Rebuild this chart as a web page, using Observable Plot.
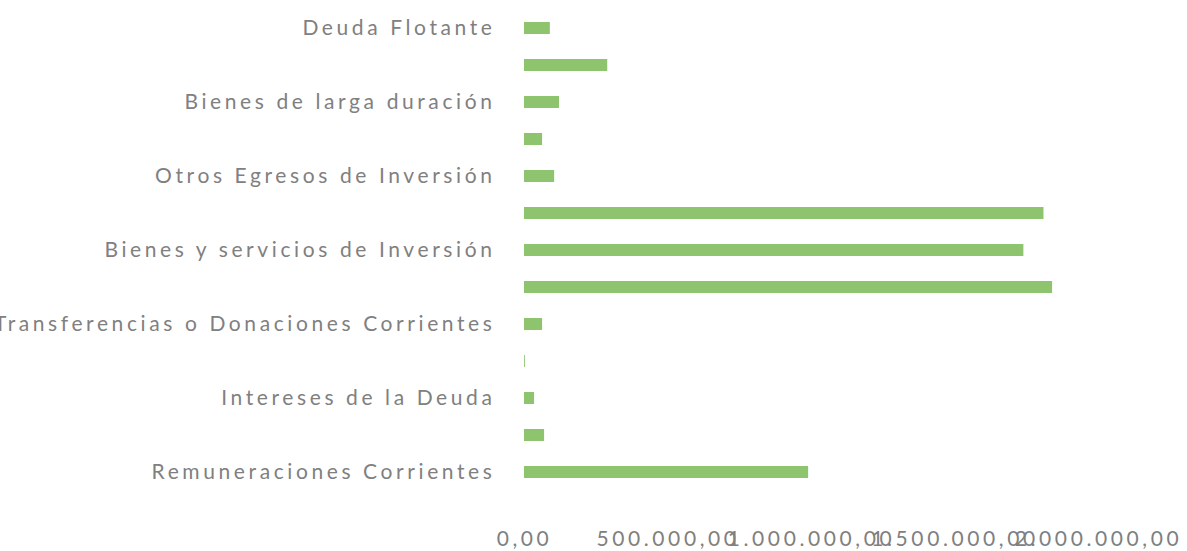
<!DOCTYPE html>
<html>
<head>
<meta charset="utf-8">
<script src="https://cdn.jsdelivr.net/npm/d3@7"></script>
<script src="https://cdn.jsdelivr.net/npm/@observablehq/plot@0.6"></script>
<style>
  html, body { margin: 0; padding: 0; background: #ffffff; }
  #chart svg { overflow: visible; }
</style>
</head>
<body>
<div id="chart"></div>
<script>
// Categories, bottom to top as in the reference
const categories = [
  "Remuneraciones Corrientes",
  "Bienes y Servicios de Consumo",
  "Intereses de la Deuda",
  "Otros Egresos Corrientes",
  "Transferencias o Donaciones Corrientes",
  "Egresos en Personal para Inversión",
  "Bienes y servicios de Inversión",
  "Obras Públicas",
  "Otros Egresos de Inversión",
  "Transferencias o Donaciones para Inversión",
  "Bienes de larga duración",
  "Amortización de la Deuda Pública",
  "Deuda Flotante"
];
const values = [
  990000, 70000, 35000, 3000, 63000,
  1840000, 1740000, 1810000, 105000, 63000,
  122000, 290000, 90000
];
// Only every other category label is shown in the reference
const shownLabels = [
  "Remuneraciones Corrientes",
  "Intereses de la Deuda",
  "Transferencias o Donaciones Corrientes",
  "Bienes y servicios de Inversión",
  "Otros Egresos de Inversión",
  "Bienes de larga duración",
  "Deuda Flotante"
];
const xTicks = [0, 500000, 1000000, 1500000, 2000000];

const data = categories.map((c, i) => ({category: c, value: values[i]}));
const esFormat = d3.formatLocale({decimal: ",", thousands: ".", grouping: [3], currency: ["", ""]}).format(",.2f");

const chart = Plot.plot({
  width: 1187,
  height: 551,
  marginLeft: 524,
  marginRight: 89,
  marginTop: 9.5,
  marginBottom: 59.5,
  style: {
    fontFamily: "Lato, 'Open Sans', sans-serif",
    fontSize: "21px",
    color: "#808080",
    background: "#ffffff",
    letterSpacing: "3.6px"
  },
  x: {domain: [0, 2000000], ticks: xTicks, tickFormat: esFormat, tickSize: 0, tickPadding: 39, label: null},
  y: {domain: categories.slice().reverse(), paddingInner: 0.67, paddingOuter: 0.335,
      tickSize: 0, tickPadding: 29, label: null,
      tickFormat: d => shownLabels.includes(d) ? d : ""},
  marks: [
    Plot.barX(data, {x: "value", y: "category", fill: "#8fc46f"})
  ]
});
document.getElementById("chart").appendChild(chart);
</script>
</body>
</html>
